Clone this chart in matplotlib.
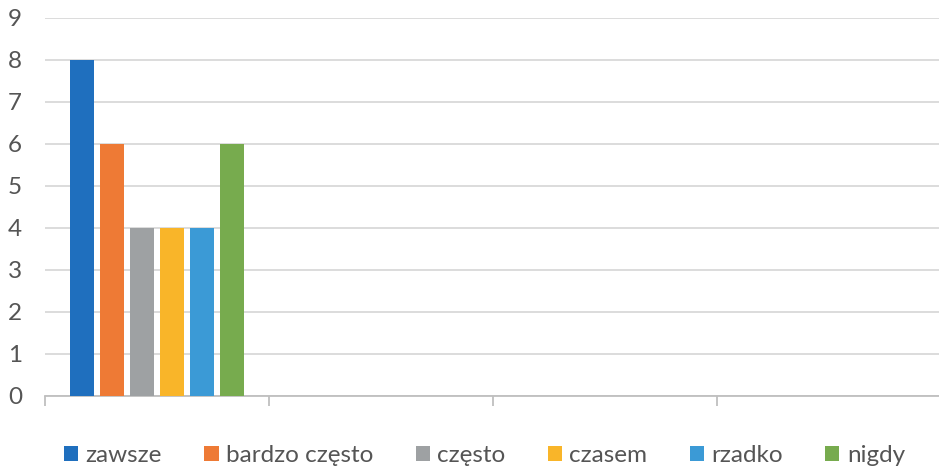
import matplotlib
matplotlib.use("Agg")
import matplotlib.pyplot as plt
import numpy as np

categories = ["", "", "", ""]
series_names = ["zawsze", "bardzo często", "często", "czasem", "rzadko", "nigdy"]
zawsze = [8, 0, 0, 0]
bardzo_czesto = [6, 0, 0, 0]
czesto = [4, 0, 0, 0]
czasem = [4, 0, 0, 0]
rzadko = [4, 0, 0, 0]
nigdy = [6, 0, 0, 0]
series_values = [zawsze, bardzo_czesto, czesto, czasem, rzadko, nigdy]
colors = ["#1F6FBE", "#EE7A35", "#9EA1A3", "#F9B529", "#3B9AD6", "#77AB4E"]
y_ticks = list(range(0, 10))

plt.rcParams['font.family'] = ['Lato', 'DejaVu Sans']

W, H = 939, 471
fig = plt.figure(figsize=(W / 100, H / 100), dpi=100)
ax = fig.add_axes([45 / W, (H - 396) / H, 896 / W, 378 / H])

x = np.arange(len(categories))
step = 30 / 224
width = 24 / 224
n = len(series_values)
handles = []
for i, (name, vals, c) in enumerate(zip(series_names, series_values, colors)):
    off = (i - (n - 1) / 2) * step
    b = ax.bar(x + off, vals, width=width, color=c, label=name, zorder=3, linewidth=0)
    handles.append(b)

ax.set_xlim(-0.5, len(categories) - 0.5)
ax.set_ylim(0, 9)
ax.set_yticks(y_ticks)
ax.set_yticklabels([str(t) for t in y_ticks])
ax.yaxis.grid(True, color="#D9D9D9", linewidth=1.3, zorder=0)
ax.set_axisbelow(True)
ax.set_xticks(np.arange(-0.5, len(categories), 1.0))
ax.set_xticklabels([""] * len(np.arange(-0.5, len(categories), 1.0)))
ax.tick_params(axis='x', direction='out', length=7, width=1.3, color="#BFBFBF")
ax.tick_params(axis='y', length=0, pad=16.5, labelsize=17.5, labelcolor="#555555")
for s in ["top", "right", "left"]:
    ax.spines[s].set_visible(False)
ax.spines["bottom"].set_color("#BFBFBF")
ax.spines["bottom"].set_linewidth(1.3)

fig.legend(handles=handles, labels=series_names, loc='center',
           bbox_to_anchor=(484.5 / W, 1 - 456 / H), ncol=6, frameon=False,
           fontsize=17.5, labelcolor="#555555", handlelength=0.58, handleheight=0.58,
           handletextpad=0.3, columnspacing=1.75)

fig.savefig("out.png", dpi=100, facecolor="white")
